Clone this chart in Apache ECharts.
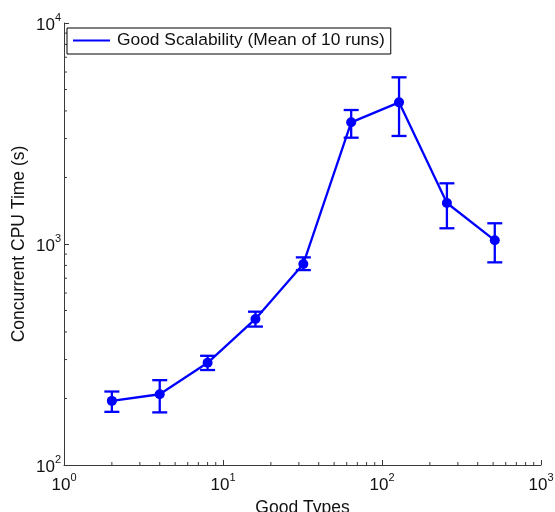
<!DOCTYPE html>
<html><head><meta charset="utf-8">
<script src="https://cdn.jsdelivr.net/npm/echarts@6/dist/echarts.min.js"></script>
<style>html,body{margin:0;padding:0;background:#fff}#c{width:555px;height:512px}</style>
</head><body><div id="c"></div>
<script>
const goodTypes = [2, 4, 8, 16, 32, 64, 128, 256, 512];
const meanTime  = [195, 209, 290, 458, 812, 3553, 4375, 1533, 1039];
const lowerTime = [174, 173, 269, 423, 762, 3027, 3082, 1178, 826];
const upperTime = [215, 242, 312, 494, 870, 4039, 5678, 1882, 1241];
const xMinorTicks = [2,3,4,5,6,7,8,9,20,30,40,50,60,70,80,90,200,300,400,500,600,700,800,900];
const yMinorTicks = [200,300,400,500,600,700,800,900,2000,3000,4000,5000,6000,7000,8000,9000];
const seriesName = 'Good Scalability (Mean of 10 runs)';
const xTitle = 'Good Types';
const yTitle = 'Concurrent CPU Time (s)';

const BLUE = '#0000ff';
const AXIS = '#3a3a3a';
const FONT = '"Liberation Sans", Arial, sans-serif';

const richX = {
  b: { fontSize: 17, fontFamily: FONT, color: '#111', verticalAlign: 'bottom', lineHeight: 22 },
  sup: { fontSize: 11, fontFamily: FONT, color: '#111', verticalAlign: 'top', lineHeight: 22, padding: [0,0,8,0] }
};
const richY = {
  b: { fontSize: 17, fontFamily: FONT, color: '#111', verticalAlign: 'bottom', lineHeight: 22 },
  sup: { fontSize: 11, fontFamily: FONT, color: '#111', verticalAlign: 'top', lineHeight: 22, padding: [0,0,8,0] }
};
function expOf(v) { return Math.round(Math.log10(v)); }

const errData = goodTypes.map((x, i) => [x, lowerTime[i], upperTime[i]]);
const lineData = goodTypes.map((x, i) => [x, meanTime[i]]);

const chart = echarts.init(document.getElementById('c'), null, { renderer: 'canvas' });
chart.setOption({
  animation: false,
  backgroundColor: '#fff',
  grid: { left: 64, right: 14, top: 23, bottom: 47, containLabel: false, outerBoundsMode: 'none' },
  legend: {
    data: [seriesName],
    left: 67, top: 28,
    orient: 'vertical',
    borderColor: '#000', borderWidth: 1,
    padding: [4, 6, 5, 6],
    itemWidth: 37, itemHeight: 2, itemGap: 4,
    icon: 'rect',
    textStyle: { fontFamily: FONT, fontSize: 17.4, color: '#111', padding: [0, 0, 0, 2] },
    backgroundColor: '#fff'
  },
  xAxis: {
    type: 'log', logBase: 10, min: 1, max: 1000,
    name: xTitle, nameLocation: 'middle', nameGap: 33,
    nameTextStyle: { fontFamily: FONT, fontSize: 17.5, color: '#111' },
    axisLine: { show: true, lineStyle: { color: AXIS, width: 1 } },
    axisTick: { show: true, inside: true, length: 5, lineStyle: { color: AXIS } },
    splitLine: { show: false },
    axisLabel: { margin: 7, formatter: function (v) { return '{b|10}{sup|' + expOf(v) + '}'; }, rich: richX, showMinLabel: true, showMaxLabel: true }
  },
  yAxis: {
    type: 'log', logBase: 10, min: 100, max: 10000,
    name: yTitle, nameLocation: 'middle', nameGap: 36, nameMoveOverlap: false,
    nameTextStyle: { fontFamily: FONT, fontSize: 17.5, color: '#111' },
    axisLine: { show: true, lineStyle: { color: AXIS, width: 1 } },
    axisTick: { show: true, inside: true, length: 5, lineStyle: { color: AXIS } },
    splitLine: { show: false },
    axisLabel: { margin: 3, formatter: function (v) { return '{b|10}{sup|' + expOf(v) + '}'; }, rich: richY }
  },
  series: [
    {
      type: 'custom', name: 'xminor', silent: true, clip: false,
      data: xMinorTicks.map(v => [v, 100]),
      renderItem: function (params, api) {
        const p = api.coord([api.value(0), api.value(1)]);
        return { type: 'line', shape: { x1: p[0], y1: p[1], x2: p[0], y2: p[1] - 3 }, style: { stroke: AXIS, lineWidth: 1 } };
      }
    },
    {
      type: 'custom', name: 'yminor', silent: true, clip: false,
      data: yMinorTicks.map(v => [1, v]),
      renderItem: function (params, api) {
        const p = api.coord([api.value(0), api.value(1)]);
        return { type: 'line', shape: { x1: p[0], y1: p[1], x2: p[0] + 3, y2: p[1] }, style: { stroke: AXIS, lineWidth: 1 } };
      }
    },
    {
      type: 'custom', name: 'errors', silent: true, z: 3,
      data: errData,
      renderItem: function (params, api) {
        const lo = api.coord([api.value(0), api.value(1)]);
        const hi = api.coord([api.value(0), api.value(2)]);
        const w = 7.5;
        const st = { stroke: BLUE, lineWidth: 2.3 };
        return { type: 'group', children: [
          { type: 'line', shape: { x1: lo[0], y1: lo[1], x2: hi[0], y2: hi[1] }, style: st },
          { type: 'line', shape: { x1: lo[0] - w, y1: lo[1], x2: lo[0] + w, y2: lo[1] }, style: st },
          { type: 'line', shape: { x1: hi[0] - w, y1: hi[1], x2: hi[0] + w, y2: hi[1] }, style: st }
        ]};
      }
    },
    {
      type: 'line', name: seriesName, z: 4,
      data: lineData,
      symbol: 'circle', symbolSize: 10,
      itemStyle: { color: BLUE },
      lineStyle: { color: BLUE, width: 2.3 }
    }
  ]
});
</script>
</body></html>
